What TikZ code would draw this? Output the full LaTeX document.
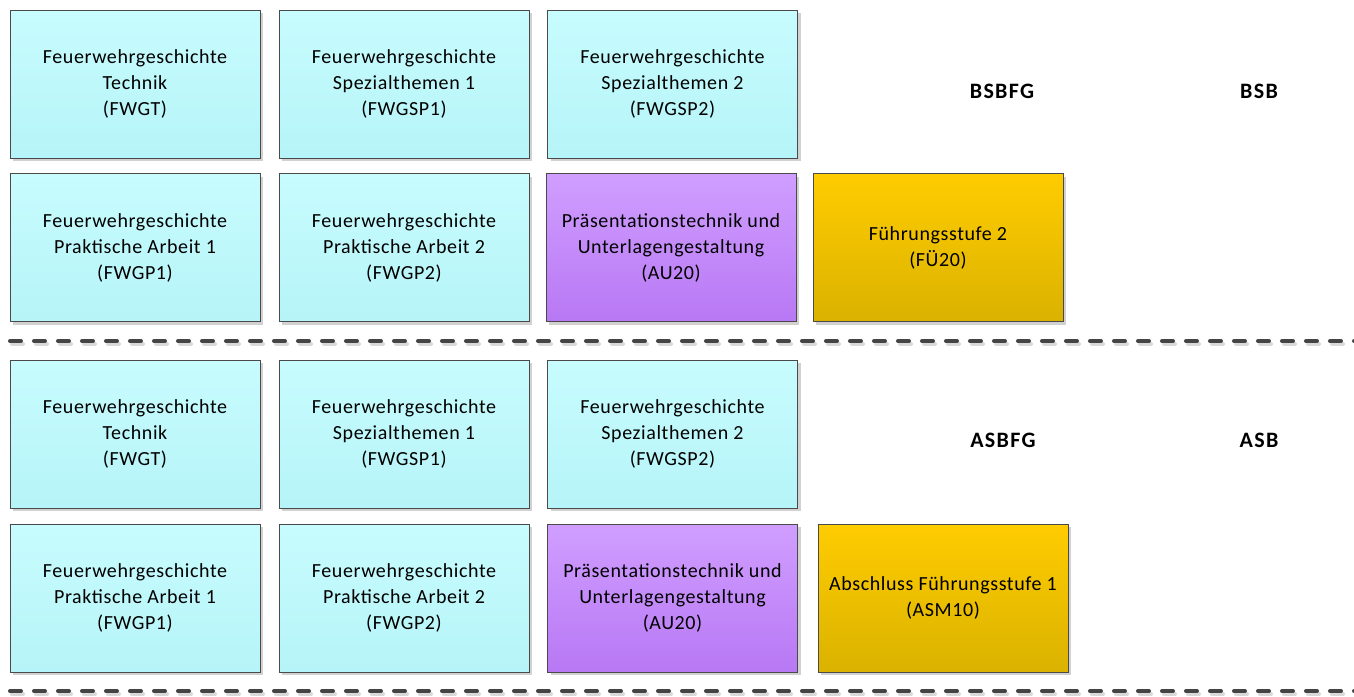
\documentclass[tikz,border=0pt]{standalone}
\usepackage{fontspec}
\setmainfont{Carlito}
\usetikzlibrary{shadows}
\definecolor{boxline}{HTML}{4A4A4A}
\definecolor{cyantop}{HTML}{C8FCFE}
\definecolor{cyanbot}{HTML}{B5F4F8}
\definecolor{purtop}{HTML}{D09EFF}
\definecolor{purbot}{HTML}{B878F4}
\definecolor{yeltop}{HTML}{FFCC00}
\definecolor{yelbot}{HTML}{DAB200}
\definecolor{dashcol}{HTML}{444444}
\tikzset{
  module/.style={draw=boxline, line width=1pt, minimum width=250pt, minimum height=148pt,
    inner sep=0pt, align=center, font=\fontsize{20}{26}\selectfont\addfontfeature{LetterSpace=3},
    drop shadow={shadow xshift=3pt, shadow yshift=-3pt, fill=black!18, opacity=1}},
  cyanbox/.style={module, top color=cyantop, bottom color=cyanbot},
  purbox/.style={module, top color=purtop, bottom color=purbot},
  yelbox/.style={module, top color=yeltop, bottom color=yelbot},
  grouplabel/.style={font=\fontsize{22}{26}\selectfont\bfseries\addfontfeature{LetterSpace=6}},
  sepline/.style={draw=dashcol, line width=4pt, line cap=round, dash pattern=on 11pt off 13pt},
  sepshadow/.style={draw=black!15, line width=4pt, line cap=round, dash pattern=on 11pt off 13pt}
}
\begin{document}
\begin{tikzpicture}[x=1pt,y=-1pt]
\useasboundingbox (0,0) rectangle (1354,696);
% upper block
\node[cyanbox] (t1) at (135,84) {Feuerwehrgeschichte\\Technik\\(FWGT)};
\node[cyanbox] (t2) at (404,84) {Feuerwehrgeschichte\\Spezialthemen 1\\(FWGSP1)};
\node[cyanbox] (t3) at (672.5,84) {Feuerwehrgeschichte\\Spezialthemen 2\\(FWGSP2)};
\node[grouplabel] (bsbfg) at (1002,91) {BSBFG};
\node[grouplabel] (bsb) at (1259,91) {BSB};
\node[cyanbox] (t4) at (135,247.5) {Feuerwehrgeschichte\\Praktische Arbeit 1\\(FWGP1)};
\node[cyanbox] (t5) at (404,247.5) {Feuerwehrgeschichte\\Praktische Arbeit 2\\(FWGP2)};
\node[purbox] (t6) at (671,247.5) {Präsentationstechnik und\\Unterlagengestaltung\\(AU20)};
\node[yelbox] (t7) at (938,247.5) {Führungsstufe 2\\(FÜ20)};
% separator 1
\coordinate (s1a) at (10,341);
\coordinate (s1b) at (1360,341);
\coordinate (s1c) at (12,344);
\coordinate (s1d) at (1362,344);
\draw[sepshadow] (s1c) -- (s1d);
\draw[sepline] (s1a) -- (s1b);
% lower block
\node[cyanbox] (b1) at (135,434) {Feuerwehrgeschichte\\Technik\\(FWGT)};
\node[cyanbox] (b2) at (404,434) {Feuerwehrgeschichte\\Spezialthemen 1\\(FWGSP1)};
\node[cyanbox] (b3) at (672.5,434) {Feuerwehrgeschichte\\Spezialthemen 2\\(FWGSP2)};
\node[grouplabel] (asbfg) at (1003,440) {ASBFG};
\node[grouplabel] (asb) at (1259,440) {ASB};
\node[cyanbox] (b4) at (135,598) {Feuerwehrgeschichte\\Praktische Arbeit 1\\(FWGP1)};
\node[cyanbox] (b5) at (404,598) {Feuerwehrgeschichte\\Praktische Arbeit 2\\(FWGP2)};
\node[purbox] (b6) at (672.5,598) {Präsentationstechnik und\\Unterlagengestaltung\\(AU20)};
\node[yelbox] (b7) at (943,598) {Abschluss Führungsstufe 1\\(ASM10)};
% separator 2
\coordinate (s2a) at (10,691);
\coordinate (s2b) at (1360,691);
\coordinate (s2c) at (12,694);
\coordinate (s2d) at (1362,694);
\draw[sepshadow] (s2c) -- (s2d);
\draw[sepline] (s2a) -- (s2b);
\end{tikzpicture}
\end{document}
